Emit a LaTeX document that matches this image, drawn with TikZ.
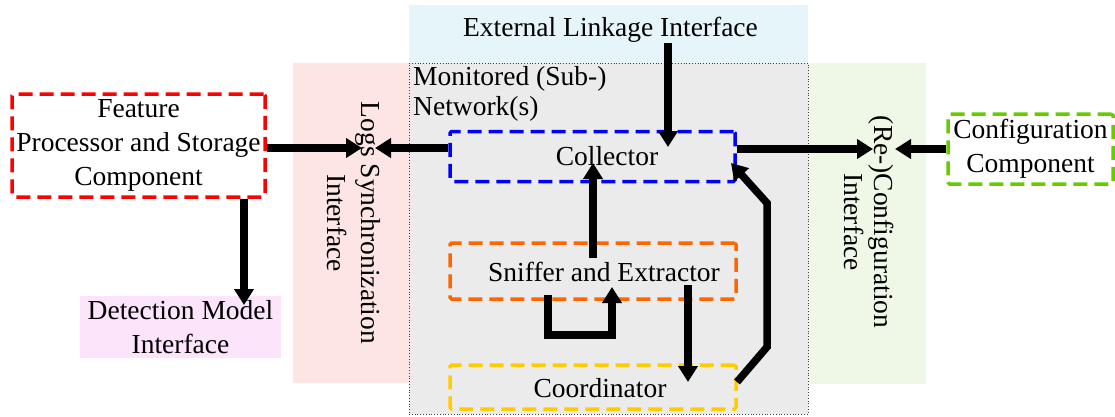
\documentclass[tikz,border=0pt]{standalone}
\usepackage{fontspec}
\setmainfont{Liberation Serif}
\usetikzlibrary{arrows.meta}
\definecolor{extc}{HTML}{E6F5FA}
\definecolor{logc}{HTML}{FDE5E5}
\definecolor{cfgc}{HTML}{EFF8E7}
\definecolor{netc}{HTML}{EBEBEB}
\definecolor{detc}{HTML}{FCE4FA}
\definecolor{bred}{HTML}{FF0000}
\definecolor{bblue}{HTML}{0000FF}
\definecolor{borange}{HTML}{FF6600}
\definecolor{byellow}{HTML}{FFCC00}
\definecolor{bgreen}{HTML}{66CC00}
\begin{document}
\begin{tikzpicture}[x=1pt,y=-1pt,
  txt/.style={font=\fontsize{27.5}{#1}\selectfont, inner sep=0pt, align=center},
  txt/.default=34,
  area/.style={fill=#1, inner sep=0pt},
  dbox/.style={draw=#1, line width=3.5pt, dash pattern=on 14pt off 7pt, inner sep=0pt, rounded corners=1.5pt},
  arr/.style={line width=7.5pt, line join=miter, -{Triangle[length=16pt,width=19pt]}},
  ]
\useasboundingbox (0,0) rectangle (1115,416);
% background areas
\node[area=extc, minimum width=399pt, minimum height=58pt] (ext) at (608.5,34) {};
\node[area=logc, minimum width=116pt, minimum height=320pt] (logs) at (351,223) {};
\node[area=cfgc, minimum width=118pt, minimum height=321pt] (cfgi) at (867,223.5) {};
\node[area=netc, draw=darkgray, dotted, line width=0.8pt, minimum width=399pt, minimum height=351pt] (net) at (608.5,238.5) {};
\node[area=detc, txt, minimum width=201pt, minimum height=62pt] (det) at (180.5,327) {Detection Model\\Interface};
% components
\node[dbox=bred, txt, minimum width=253pt, minimum height=103pt] (feat) at (138.5,145.5) {Feature\\Processor and Storage\\Component};
\node[dbox=bgreen, txt, minimum width=165pt, minimum height=70pt] (cfg) at (1030.5,149) {Configuration\\Component};
\node[dbox=bblue, minimum width=285pt, minimum height=50pt] (col) at (592.5,156.5) {};
\node[dbox=borange, minimum width=286pt, minimum height=56pt] (snf) at (593,271) {};
\node[dbox=byellow, minimum width=286pt, minimum height=44pt] (crd) at (593,387) {};
% texts
\node[txt, anchor=base] (extT) at (610.5,36) {External Linkage Interface};
\node[txt=30, align=left, anchor=north west] (netT) at (413,66) {Monitored (Sub-)\\Network(s)};
\node[txt, rotate=-90] (logsT) at (354,223) {Logs Synchronization\\Interface};
\node[txt=30, rotate=-90] (cfgT) at (869.5,222) {(Re-)Configuration\\Interface};
\node[txt, anchor=base] (colT) at (607,165) {Collector};
\node[txt, anchor=base] (snfT) at (604,281) {Sniffer and Extractor};
\node[txt, anchor=base] (crdT) at (600,397) {Coordinator};
% connectors
\coordinate (t1) at (362,148);
\draw[arr] (feat.east |- t1) -- (t1);
\coordinate (t2) at (375,148);
\draw[arr] (col.west |- t2) -- (t2);
\coordinate (e1) at (668,43);
\coordinate (t3) at (668,147);
\draw[arr] (e1) -- (t3);
\coordinate (t4) at (873,149);
\draw[arr] (col.east |- t4) -- (t4);
\coordinate (t5) at (895,149);
\draw[arr] (cfg.west) -- (t5);
\coordinate (s1) at (593,258);
\coordinate (t6) at (593,163);
\draw[arr] (s1) -- (t6);
\coordinate (l0) at (548,295);
\coordinate (l1) at (548,335);
\coordinate (t7) at (612,287);
\draw[arr] (l0) -- (l1) -| (t7);
\coordinate (s2) at (688,285);
\coordinate (t8) at (688,382);
\draw[arr] (s2) -- (t8);
\coordinate (c0) at (737,382);
\coordinate (c1) at (767,347);
\coordinate (c2) at (767,203);
\coordinate (t9) at (731,163);
\draw[arr] (c0) -- (c1) -- (c2) -- (t9);
\coordinate (t10) at (244,305);
\draw[arr] (feat.south -| t10) -- (t10);
\end{tikzpicture}
\end{document}
